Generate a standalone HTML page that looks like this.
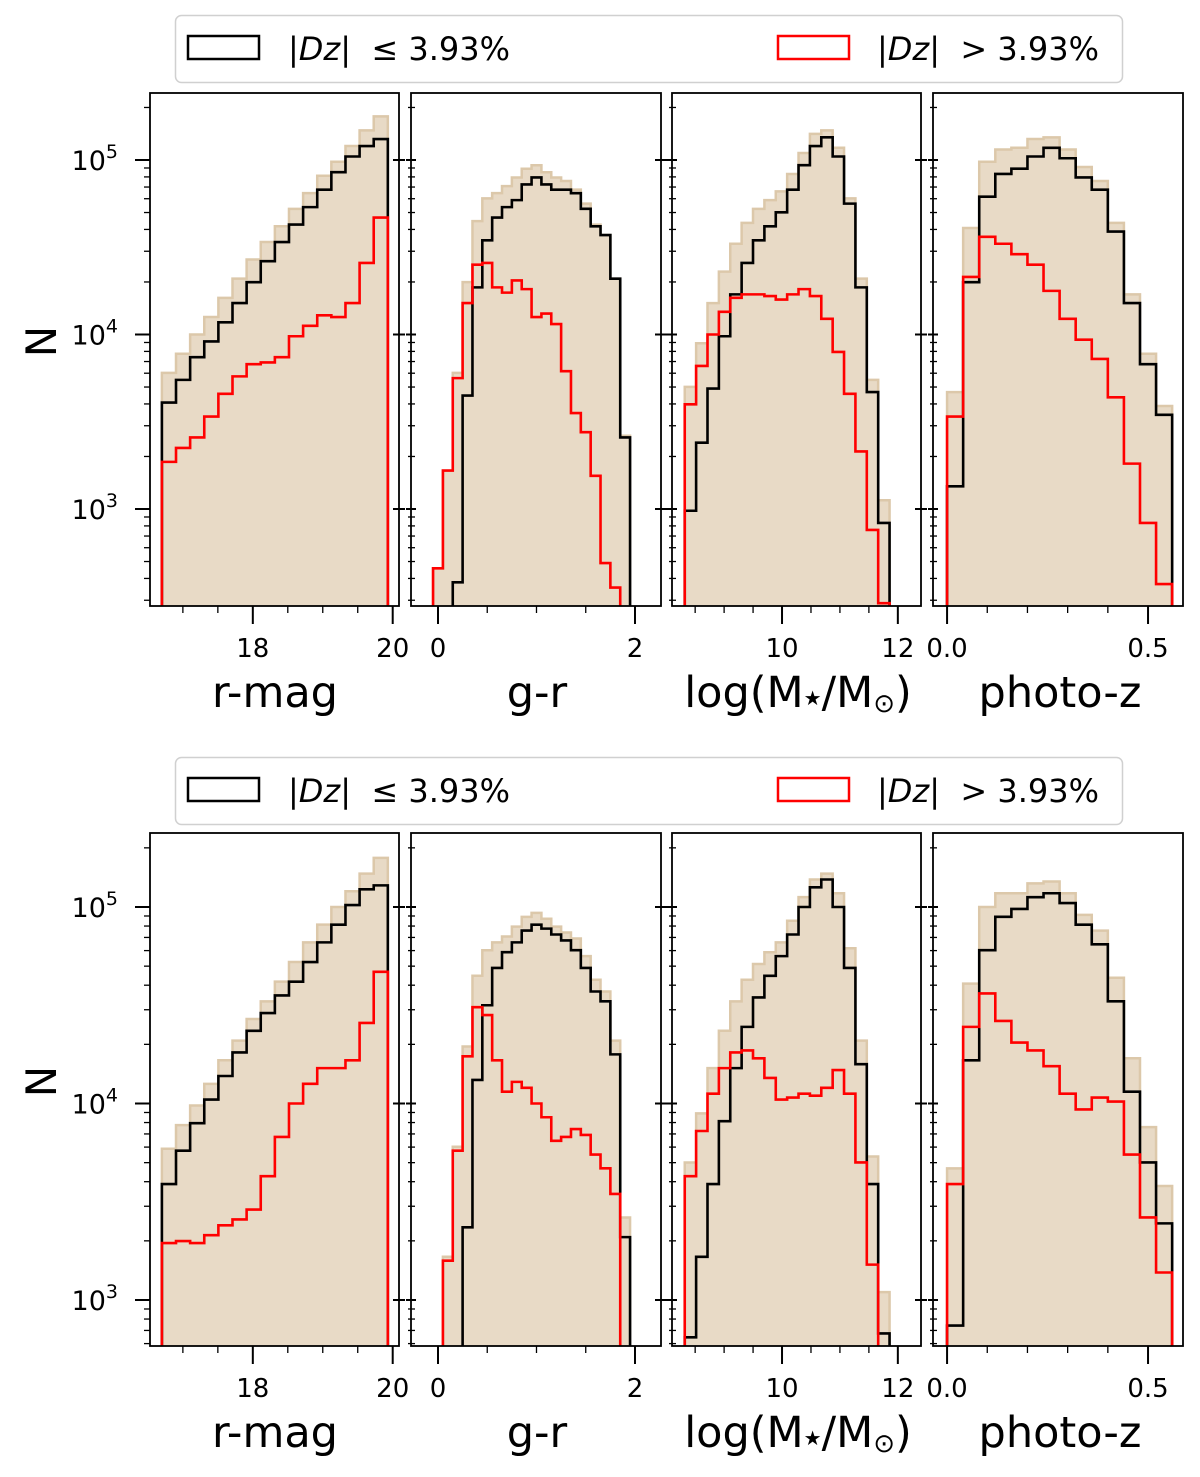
<!DOCTYPE html>
<html><head><meta charset="utf-8"><style>
html,body{margin:0;padding:0;background:#fff;}
svg{display:block;font-family:"DejaVu Sans","Liberation Sans",sans-serif;}
</style></head><body>
<svg id="fig" width="1200" height="1477" viewBox="0 0 1200 1477" xmlns="http://www.w3.org/2000/svg"></svg>
<script>
// ---- data: log10(N) per bin (null = empty bin) ----
const binStart = [16.7, -0.05, 8.32, 0.0];
const binWidth = [0.2019, 0.1, 0.1965, 0.04];
const panelNames = ["r-mag", "g-r", "log-mass", "photo-z"];
const xTickLabels = [["18","20"],["0","2"],["10","12"],["0.0","0.5"]];
const xTickValues = [[18,20],[0,2],[10,12],[0,0.5]];
const xMinorStep = [0.5, 0.5, 0.5, 0.1];
const yTickExps = [3,4,5];

const T_rmag_tot=[3.78,3.89,4.00,4.10,4.21,4.32,4.43,4.53,4.62,4.72,4.81,4.91,4.99,5.08,5.17,5.25];
const T_rmag_good=[3.61,3.74,3.87,3.96,4.07,4.18,4.30,4.42,4.53,4.63,4.73,4.83,4.93,5.02,5.08,5.12];
const T_rmag_bad=[3.27,3.35,3.41,3.53,3.66,3.76,3.83,3.84,3.87,3.99,4.05,4.11,4.10,4.18,4.41,4.67];
const T_gr_tot=[2.66,3.22,3.78,4.30,4.65,4.78,4.81,4.85,4.90,4.95,4.97,4.93,4.90,4.88,4.83,4.75,4.63,4.57,4.32,3.42];
const T_gr_good=[null,null,2.58,3.65,4.27,4.54,4.67,4.73,4.77,4.86,4.90,4.86,4.83,4.83,4.81,4.72,4.62,4.57,4.32,3.41];
const T_gr_bad=[2.66,3.22,3.75,4.18,4.40,4.41,4.27,4.24,4.31,4.26,4.10,4.12,4.06,3.79,3.55,3.44,3.19,2.69,2.55,null];
const T_mass_tot=[3.70,3.95,4.18,4.36,4.52,4.64,4.72,4.77,4.82,4.92,5.04,5.15,5.17,5.07,4.78,4.32,3.74,3.05];
const T_mass_good=[2.99,3.38,3.69,3.99,4.23,4.41,4.54,4.62,4.70,4.83,4.97,5.08,5.13,5.02,4.75,4.27,3.67,2.92];
const T_mass_bad=[3.60,3.82,4.00,4.13,4.21,4.23,4.23,4.22,4.20,4.23,4.26,4.22,4.09,3.90,3.66,3.33,2.88,2.46];
const T_z_tot=[3.67,4.61,4.99,5.06,5.07,5.12,5.13,5.06,4.96,4.88,4.64,4.23,3.89,3.59];
const T_z_good=[3.13,4.30,4.79,4.92,4.95,5.02,5.07,5.01,4.90,4.83,4.59,4.18,3.83,3.54];
const T_z_bad=[3.53,4.33,4.56,4.52,4.46,4.40,4.25,4.09,3.97,3.86,3.64,3.26,2.92,2.57];

const B_rmag_tot=[3.77,3.89,3.99,4.10,4.22,4.32,4.43,4.52,4.62,4.72,4.82,4.91,5.00,5.08,5.17,5.25];
const B_rmag_good=[3.59,3.76,3.90,4.02,4.14,4.26,4.37,4.46,4.55,4.62,4.72,4.82,4.91,5.01,5.09,5.11];
const B_rmag_bad=[3.29,3.30,3.29,3.33,3.38,3.41,3.46,3.63,3.83,4.00,4.10,4.18,4.18,4.22,4.41,4.67];
const B_gr_tot=[null,3.22,3.78,4.29,4.65,4.78,4.82,4.85,4.90,4.95,4.97,4.94,4.90,4.87,4.84,4.75,4.63,4.57,4.32,3.42];
const B_gr_good=[null,null,null,3.37,4.12,4.50,4.69,4.77,4.82,4.88,4.91,4.89,4.86,4.83,4.78,4.69,4.57,4.52,4.25,3.32];
const B_gr_bad=[null,3.20,3.76,4.24,4.49,4.45,4.22,4.06,4.11,4.08,4.00,3.93,3.81,3.83,3.87,3.84,3.74,3.67,3.54,null];
const B_mass_tot=[3.70,3.95,4.18,4.37,4.52,4.63,4.71,4.77,4.82,4.93,5.05,5.14,5.17,5.07,4.79,4.32,3.73,3.04];
const B_mass_good=[2.81,3.22,3.59,3.91,4.18,4.39,4.54,4.65,4.75,4.86,5.00,5.10,5.14,5.00,4.69,4.20,3.59,2.83];
const B_mass_bad=[3.63,3.86,4.05,4.18,4.26,4.27,4.23,4.13,4.02,4.03,4.05,4.04,4.08,4.17,4.05,3.70,3.18,null];
const B_z_tot=[3.67,4.61,5.00,5.07,5.07,5.12,5.13,5.07,4.96,4.88,4.64,4.23,3.88,3.58];
const B_z_good=[2.87,4.22,4.78,4.95,4.99,5.05,5.07,5.02,4.91,4.81,4.52,4.06,3.70,3.39];
const B_z_bad=[3.59,4.39,4.56,4.42,4.31,4.27,4.19,4.05,3.97,4.03,4.01,3.74,3.42,3.14];

// ---- layout ----
const NS="http://www.w3.org/2000/svg";
const svg=document.getElementById('fig');
const panelX=[[150,399],[411,661],[672,921],[933,1183]];
const xDomain=[[16.53,20.09],[-0.274,2.264],[8.10,12.40],[-0.035,0.587]];
const figs=[
 {top:93,bottom:606,y5:160,dec:174.5,legY:15,series:[[T_rmag_tot,T_rmag_good,T_rmag_bad],[T_gr_tot,T_gr_good,T_gr_bad],[T_mass_tot,T_mass_good,T_mass_bad],[T_z_tot,T_z_good,T_z_bad]]},
 {top:833,bottom:1346,y5:907,dec:196.5,legY:757,series:[[B_rmag_tot,B_rmag_good,B_rmag_bad],[B_gr_tot,B_gr_good,B_gr_bad],[B_mass_tot,B_mass_good,B_mass_bad],[B_z_tot,B_z_good,B_z_bad]]}
];
function mk(tag,attrs,parent){const e=document.createElementNS(NS,tag);for(const k in attrs)e.setAttribute(k,attrs[k]);(parent||svg).appendChild(e);return e;}

figs.forEach((F,fi)=>{
 const yOf=L=>F.y5-(L-5)*F.dec;
 // legend
 const lg=mk('g',{});
 
 
 mk('rect',{x:175.5,y:F.legY+0.5,width:947,height:67,rx:6,fill:'#fff',stroke:'#d0d0d0','stroke-width':1.5},lg);
 const e1=mk('g',{},lg);
 
 
 mk('rect',{x:188,y:F.legY+21,width:71,height:23,fill:'none',stroke:'#000','stroke-width':2.5},e1);
 const t1=mk('text',{x:288,y:F.legY+45,'font-size':32,fill:'#000'},e1);
 t1.innerHTML='|<tspan font-style="italic">Dz</tspan>|\u00a0\u00a0\u2264\u00a03.93%';
 const e2=mk('g',{},lg);
 
 
 mk('rect',{x:778,y:F.legY+21,width:71,height:23,fill:'none',stroke:'#ff0000','stroke-width':2.5},e2);
 const t2=mk('text',{x:877,y:F.legY+45,'font-size':32,fill:'#000'},e2);
 t2.innerHTML='|<tspan font-style="italic">Dz</tspan>|\u00a0\u00a0&gt;\u00a03.93%';

 // y label
 const yl=mk('text',{x:0,y:0,'font-size':42,'text-anchor':'middle',transform:`translate(56,${(F.top+F.bottom)/2-8}) rotate(-90)`});
 yl.textContent='N';
 
 

 for(let p=0;p<4;p++){
  const [x0,x1]=panelX[p];const [d0,d1]=xDomain[p];
  const xOf=v=>x0+(v-d0)/(d1-d0)*(x1-x0);
  const g=mk('g',{});
  
  
  const cid='clip'+fi+'_'+p;
  const cp=mk('clipPath',{id:cid},g);mk('rect',{x:x0,y:F.top,width:x1-x0,height:F.bottom-F.top},cp);
  const plot=mk('g',{'clip-path':`url(#${cid})`},g);
  const [tot,good,bad]=F.series[p];
  const base=F.bottom+20;
  function stepPath(arr){
   let d='';let started=false;
   arr.forEach((v,i)=>{
    const xa=xOf(binStart[p]+i*binWidth[p]),xb=xOf(binStart[p]+(i+1)*binWidth[p]);
    const y=(v===null)?base:yOf(v);
    if(!started){d+=`M${xa},${base}L${xa},${y}`;started=true;} else d+=`L${xa},${y}`;
    d+=`L${xb},${y}`;
    if(i===arr.length-1)d+=`L${xb},${base}`;
   });
   return d;
  }
  const ft=mk('path',{d:stepPath(tot)+'Z',fill:'#e8dac6',stroke:'#dcc8aa','stroke-width':2.5},plot);
  
  
  const gk=mk('path',{d:stepPath(good),fill:'none',stroke:'#000','stroke-width':2.6},plot);
  
  
  const rd=mk('path',{d:stepPath(bad),fill:'none',stroke:'#ff0000','stroke-width':2.6},plot);
  
  
  mk('rect',{x:x0,y:F.top,width:x1-x0,height:F.bottom-F.top,fill:'none',stroke:'#000','stroke-width':1.8},g);
  // y ticks
  const Lmin=(F.y5-F.bottom)/F.dec+5, Lmax=(F.y5-F.top)/F.dec+5;
  for(let d=2;d<=5;d++){for(let m=1;m<=9;m++){
   const L=d+Math.log10(m); if(L<Lmin||L>Lmax)continue;
   const y=yOf(L); const major=(m===1);
   if(p===0){mk('line',{x1:x0-(major?15:6),x2:x0,y1:y,y2:y,stroke:'#000','stroke-width':major?2:1.3},g);}
   else{mk('line',{x1:x0-(major?5:3),x2:x0+(major?5:4),y1:y,y2:y,stroke:'#000','stroke-width':major?2:1.3},g);}
   if(major&&p<3){mk('line',{x1:x1-6,x2:x1+6,y1:y,y2:y,stroke:'#000','stroke-width':2},g);}
  }}
  if(p===0){yTickExps.forEach(e=>{
   const t=mk('text',{x:118,y:yOf(e)+10,'font-size':27,'text-anchor':'end'},g);
   t.innerHTML='10<tspan dy="-12" font-size="19">'+e+'</tspan>';
   
   
  });}
  // x ticks
  const st=xMinorStep[p];
  for(let k=Math.ceil(d0/st);k*st<=d1;k++){
   const v=k*st;const x=xOf(v);const major=xTickValues[p].some(t=>Math.abs(t-v)<1e-6);
   mk('line',{x1:x,x2:x,y1:F.bottom,y2:F.bottom+(major?18:7),stroke:'#000','stroke-width':major?2:1.3},g);
  }
  xTickValues[p].forEach((v,i)=>{
   const t=mk('text',{x:xOf(v),y:F.bottom+51,'font-size':26,'text-anchor':'middle'},g);
   t.textContent=xTickLabels[p][i];
   
   
  });
  const xl=mk('text',{x:[275,537,798,1060][p],y:F.bottom+101,'font-size':43,'text-anchor':'middle'},g);
  if(p===2) xl.innerHTML='log(M<tspan font-size="20" dy="-2">\u2605</tspan><tspan dy="2">/M</tspan><tspan font-size="26" dy="5">\u2299</tspan><tspan dy="-5">)</tspan>';
  else xl.textContent=panelNames[p];
  
  
 }
});
</script>
</body></html>
